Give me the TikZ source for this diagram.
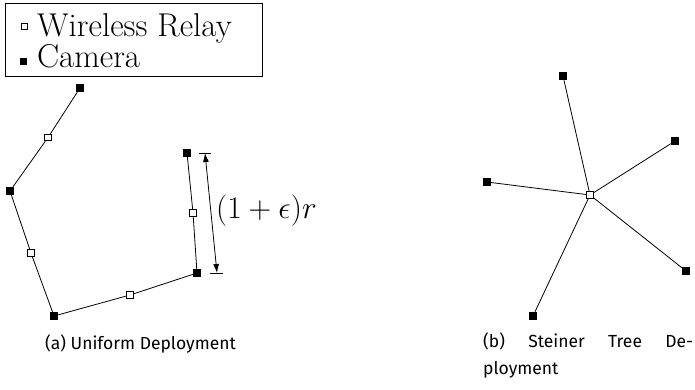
\documentclass[tikz,border=0pt]{standalone}
\usepackage{fontspec}
\newfontfamily\capfont{Fira Sans}
\usetikzlibrary{arrows.meta}
\begin{document}
\begin{tikzpicture}[x=1pt,y=-1pt,
  cam/.style={rectangle,fill=black,minimum size=8pt,inner sep=0pt},
  relay/.style={rectangle,draw=black,fill=white,line width=0.9pt,minimum size=6.5pt,inner sep=0pt},
  link/.style={line width=0.8pt},
  bigtext/.style={font=\fontsize{33}{37}\selectfont,inner sep=0pt},
  mathtext/.style={font=\fontsize{24.88}{30}\selectfont,inner sep=0pt},
  captext/.style={font=\capfont\fontsize{17.5}{27}\selectfont,inner sep=0pt}]
\useasboundingbox (0,0) rectangle (695,389);
% legend
\node[draw,line width=0.8pt,minimum width=257pt,minimum height=73pt,anchor=north west,inner sep=0pt] (legend) at (5,3) {};
\node[relay,minimum size=6pt] (lr) at (24,26) {};
\node[bigtext,anchor=base west] (lt1) at (37,36) {Wireless Relay};
\node[cam,minimum size=7pt] (lc) at (23,61) {};
\node[bigtext,anchor=base west] (lt2) at (37,67) {Camera};
% uniform deployment
\node[cam] (c1) at (80,88) {};
\node[cam] (c2) at (10,191) {};
\node[cam] (c3) at (54,316) {};
\node[cam] (c4) at (197,273) {};
\node[cam] (c5) at (187,153) {};
\node[relay] (r1) at (48,137.5) {};
\node[relay] (r2) at (31,253) {};
\node[relay] (r3) at (130,295) {};
\node[relay] (r4) at (193,213) {};
\draw[link] (c1) -- (r1) -- (c2) -- (r2) -- (c3) -- (r3) -- (c4) -- (r4) -- (c5);
% dimension
\coordinate (dt) at (205,153);
\coordinate (db) at (217,273);
\draw[link] (199,153) -- (211,153);
\draw[link] (210,273) -- (223,273);
\draw[link,{Latex[length=9pt,width=6pt]}-{Latex[length=9pt,width=6pt]}] (dt) -- (db);
\node[mathtext,anchor=west] (dim) at (216,211) {\scalebox{1.265}{$(1+\epsilon)r$}};
% steiner tree
\node[cam] (s1) at (563,76) {};
\node[cam] (s2) at (675,141) {};
\node[cam] (s3) at (487,182) {};
\node[cam] (s4) at (686,271) {};
\node[cam] (s5) at (533,316) {};
\node[relay] (sr) at (590,195) {};
\foreach \s in {s1,s2,s3,s4,s5} \draw[link] (sr) -- (\s);
% captions
\node[captext,anchor=base west] (capa) at (45,349) {(a) Uniform Deployment};
\node[captext,anchor=base west,text width=210pt,align=justify] (capb) at (483,347) {(b) Steiner Tree De-\linebreak ployment};
\end{tikzpicture}
\end{document}
